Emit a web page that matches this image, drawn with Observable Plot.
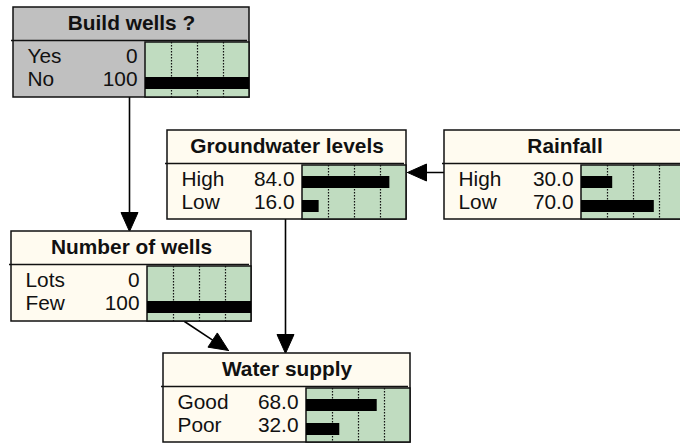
<!DOCTYPE html>
<html><head><meta charset="utf-8">
<script src="https://cdn.jsdelivr.net/npm/d3@7"></script>
<script src="https://cdn.jsdelivr.net/npm/@observablehq/plot@0.6"></script>
<style>body{margin:0;background:#fff;overflow:hidden}</style>
</head><body><div id="chart"></div>
<script>
// ---- data ----
const nodeNames = ["Build wells ?", "Groundwater levels", "Rainfall", "Number of wells", "Water supply"];
const stateLabels = [["Yes", "No"], ["High", "Low"], ["High", "Low"], ["Lots", "Few"], ["Good", "Poor"]];
const stateValues = [[0, 100], [84.0, 16.0], [30.0, 70.0], [0, 100], [68.0, 32.0]];
const valueLabels = [["0", "100"], ["84.0", "16.0"], ["30.0", "70.0"], ["0", "100"], ["68.0", "32.0"]];
const gridPercents = [25, 50, 75];
// links: [from, to]
const links = [[0, 3], [1, 4], [2, 1], [3, 4]];

// ---- layout (positions / styles) ----
const boxes = [
  {x0: 13, x1: 249, y0: 7, y1: 97, fill: "#c0c0c0"},
  {x0: 167, x1: 406, y0: 130, y1: 219, fill: "#fffbf0"},
  {x0: 444, x1: 685, y0: 130, y1: 219, fill: "#fffbf0"},
  {x0: 11, x1: 251, y0: 231, y1: 321, fill: "#fffbf0"},
  {x0: 163, x1: 410, y0: 353, y1: 442, fill: "#fffbf0"}
];
const linkEnds = [
  {xa: 129, ya: 97, xb: 129, yb: 231},
  {xa: 285, ya: 219, xb: 285, yb: 353},
  {xa: 444, ya: 172, xb: 407, yb: 172},
  {xa: 184, ya: 321, xb: 228, yb: 350}
];
const BAR_W = 104, TITLE_H = 33, FS = 19.5, SX = 1.07;

const nodes = nodeNames.map((name, i) => {
  const b = boxes[i];
  return {name, ...b, div: b.y0 + TITLE_H, bx0: b.x1 - BAR_W};
});
const rows = [];
nodes.forEach((n, i) => stateLabels[i].forEach((s, j) => rows.push({
  node: n, label: s, value: stateValues[i][j], vlabel: valueLabels[i][j], j
})));
const grid = [];
nodes.forEach(n => gridPercents.forEach(p => grid.push({node: n, p})));

const shafts = [], heads = [];
links.forEach(([a, b], k) => {
  const e = linkEnds[k];
  const dx = e.xb - e.xa, dy = e.yb - e.ya, L = Math.hypot(dx, dy);
  const ux = dx / L, uy = dy / L, nx = -uy, ny = ux;
  const hl = 19, hw = 8.5;
  const bx = e.xb - hl * ux, by = e.yb - hl * uy;
  shafts.push({k, x: e.xa, y: e.ya}, {k, x: bx, y: by});
  heads.push({k, x: e.xb, y: e.yb}, {k, x: bx + hw * nx, y: by + hw * ny}, {k, x: bx - hw * nx, y: by - hw * ny}, {k, x: e.xb, y: e.yb});
});

const plot = Plot.plot({
  width: 680, height: 446, margin: 0,
  x: {domain: [0, 680], range: [0, 680], axis: null},
  y: {domain: [0, 446], range: [0, 446], axis: null},
  color: {type: "identity"},
  style: {fontFamily: "'Liberation Sans', Arial, sans-serif", background: "white"},
  marks: [
    Plot.line(shafts, {x: "x", y: "y", z: "k", stroke: "black", strokeWidth: 1.6}),
    Plot.line(heads, {x: "x", y: "y", z: "k", stroke: "black", fill: "black", strokeWidth: 1}),
    Plot.rect(nodes, {x1: "x0", x2: "x1", y1: "y0", y2: "y1", fill: "fill", stroke: "#111", strokeWidth: 1.5}),
    Plot.rect(nodes, {x1: "bx0", x2: "x1", y1: d => d.div + 2, y2: "y1", fill: "#c0dcc0", stroke: "#111", strokeWidth: 1.5}),
    Plot.ruleY(nodes, {y: "div", x1: d => d.x0 - 2, x2: d => d.x1 - 2, stroke: "#111", strokeWidth: 1.5}),
    Plot.ruleX(grid, {x: d => d.node.bx0 + d.p / 100 * BAR_W, y1: d => d.node.div + 2, y2: d => d.node.y1, stroke: "#111", strokeWidth: 1.2, strokeDasharray: "1.5,1.5"}),
    Plot.rect(rows, {x1: d => d.node.bx0, x2: d => d.node.bx0 + d.value / 100 * BAR_W, y1: d => d.node.div + 13 + d.j * 24, y2: d => d.node.div + 25 + d.j * 24, fill: "black"}),
    Plot.text(nodes, {x: d => (d.x0 + d.x1) / 2, y: d => d.y0 + 22.5 - 0.32 * FS, text: "name", fontWeight: "bold", fontSize: FS, fill: "#111"}),
    Plot.text(rows, {x: d => d.node.x0 + 14, y: d => d.node.div + 22.5 + d.j * 23 - 0.32 * FS, text: "label", textAnchor: "start", fontSize: FS, fill: "#111"}),
    Plot.text(rows, {x: d => d.node.bx0 - 8, y: d => d.node.div + 22.5 + d.j * 23 - 0.32 * FS, text: "vlabel", textAnchor: "end", fontSize: FS, fill: "#111"})
  ]
});
// widen glyphs horizontally to match reference proportions
d3.select(plot).selectAll("text").each(function() {
  const t = this.getAttribute("transform");
  if (t && t.includes("translate")) this.setAttribute("transform", t + ` scale(${SX},1)`);
});
document.getElementById("chart").appendChild(plot);
</script>
</body></html>
